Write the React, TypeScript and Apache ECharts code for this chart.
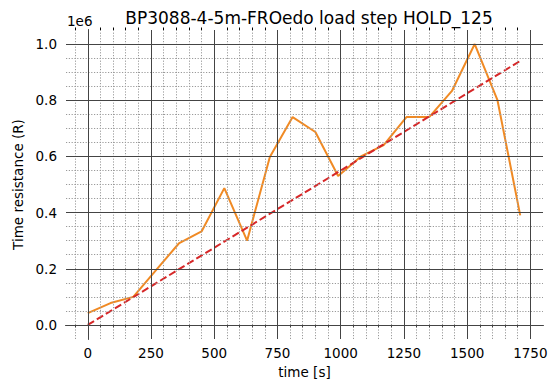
import React, { useEffect, useRef } from "react";
import * as echarts from "echarts";

const titleText = "BP3088-4-5m-FROedo load step HOLD_125";
const xName = "time [s]";
const yName = "Time resistance (R)";
const offsetText = "1e6";

const timeS = [0, 90, 180, 270, 360, 450, 540, 630, 720, 810, 900, 990, 1080, 1170, 1260, 1350, 1440, 1530, 1620, 1710];
const resistance = [42000, 78000, 100000, 195000, 290000, 333000, 487000, 300000, 598000, 740000, 687000, 530000, 600000, 640000, 740000, 740000, 833000, 1000000, 800000, 390000];
const trendTime = [0, 1710];
const trendValue = [0, 940000];

const xMajorTicks = [0, 250, 500, 750, 1000, 1250, 1500, 1750];
const xMinorTicks = [-50, 50, 100, 150, 200, 300, 350, 400, 450, 550, 600, 650, 700, 800, 850, 900, 950, 1050, 1100, 1150, 1200, 1300, 1350, 1400, 1450, 1550, 1600, 1650, 1700];
const yMajorTicks = [0, 200000, 400000, 600000, 800000, 1000000];
const yMinorTicks = [50000, 100000, 150000, 250000, 300000, 350000, 450000, 500000, 550000, 650000, 700000, 750000, 850000, 900000, 950000];

const X_MIN = -86;
const X_MAX = 1800;
const Y_MIN = -50000;
const Y_MAX = 1050000;

const FONT = "DejaVu Sans";
const LABEL_SIZE = 13.5;

export default function App() {
  const ref = useRef<HTMLDivElement>(null);
  useEffect(() => {
    if (!ref.current) return;
    const chart = echarts.init(ref.current, null, { renderer: "svg" });
    const gridPos = { left: 66, right: 12, top: 30, bottom: 46 };
    const tickStyle = { color: "#000", width: 1 };
    const baseX = {
      type: "value" as const,
      min: X_MIN,
      max: X_MAX,
      splitLine: { show: false },
      axisLine: { show: true, lineStyle: { color: "#000", width: 1 } },
    };
    const baseY = {
      type: "value" as const,
      min: Y_MIN,
      max: Y_MAX,
      splitLine: { show: false },
      axisLine: { show: true, lineStyle: { color: "#000", width: 1 } },
    };
    const option: any = {
      animation: false,
      backgroundColor: "#fff",
      title: {
        text: titleText,
        left: 304,
        textAlign: "center",
        top: 4,
        textStyle: { fontFamily: FONT, fontSize: 17, fontWeight: "normal", color: "#000" },
      },
      graphic: [
        {
          type: "text",
          left: 67,
          top: 14,
          style: { text: offsetText, font: `${LABEL_SIZE}px "${FONT}"`, fill: "#000" },
        },
      ],
      grid: [
        { ...gridPos },
        { ...gridPos },
      ],
      xAxis: [
        {
          ...baseX,
          gridIndex: 0,
          position: "bottom",
          name: xName,
          nameLocation: "middle",
          nameGap: 26,
          nameTextStyle: { fontFamily: FONT, fontSize: LABEL_SIZE, color: "#000" },
          axisTick: { show: true, length: 4, lineStyle: tickStyle, customValues: xMajorTicks },
          axisLabel: {
            show: true,
            margin: 7,
            customValues: xMajorTicks,
            fontFamily: FONT,
            fontSize: LABEL_SIZE,
            color: "#000",
            formatter: (v: number) => String(v),
          },
        },
        {
          ...baseX,
          gridIndex: 0,
          position: "top",
          axisTick: { show: true, length: 4, lineStyle: tickStyle, customValues: xMajorTicks },
          axisLabel: { show: false },
        },
        {
          ...baseX,
          gridIndex: 1,
          position: "bottom",
          axisLine: { show: false },
          axisTick: { show: true, length: 2.5, lineStyle: tickStyle, customValues: xMinorTicks },
          axisLabel: { show: false },
        },
        {
          ...baseX,
          gridIndex: 1,
          position: "top",
          axisLine: { show: false },
          axisTick: { show: true, length: 2.5, lineStyle: tickStyle, customValues: xMinorTicks },
          axisLabel: { show: false },
        },
      ],
      yAxis: [
        {
          ...baseY,
          gridIndex: 0,
          position: "left",
          name: yName,
          nameLocation: "middle",
          nameGap: 37,
          nameRotate: 90,
          nameTextStyle: { fontFamily: FONT, fontSize: LABEL_SIZE, color: "#000" },
          axisTick: { show: true, length: 4, lineStyle: tickStyle, customValues: yMajorTicks },
          axisLabel: {
            show: true,
            margin: 9,
            customValues: yMajorTicks,
            fontFamily: FONT,
            fontSize: LABEL_SIZE,
            color: "#000",
            formatter: (v: number) => (v / 1e6).toFixed(1),
          },
        },
        {
          ...baseY,
          gridIndex: 0,
          position: "right",
          axisTick: { show: true, length: 4, lineStyle: tickStyle, customValues: yMajorTicks },
          axisLabel: { show: false },
        },
        {
          ...baseY,
          gridIndex: 1,
          position: "left",
          show: false,
        },
      ],
      series: [
        {
          type: "line",
          name: "grid",
          xAxisIndex: 0,
          yAxisIndex: 0,
          data: [],
          z: 1,
          silent: true,
          markLine: {
            silent: true,
            symbol: "none",
            label: { show: false },
            animation: false,
            data: [
              ...xMinorTicks.map((v) => ({
                xAxis: v,
                lineStyle: { color: "#9a9a9a", width: 1, type: [1.2, 1.6] },
              })),
              ...yMinorTicks.map((v) => ({
                yAxis: v,
                lineStyle: { color: "#9a9a9a", width: 1, type: [1.2, 1.6] },
              })),
              ...xMajorTicks.map((v) => ({
                xAxis: v,
                lineStyle: { color: "#444", width: 1, type: "solid" },
              })),
              ...yMajorTicks.map((v) => ({
                yAxis: v,
                lineStyle: { color: "#444", width: 1, type: "solid" },
              })),
            ],
          },
        },
        {
          type: "line",
          name: "resistance",
          xAxisIndex: 0,
          yAxisIndex: 0,
          data: timeS.map((t, i) => [t, resistance[i]]),
          showSymbol: false,
          symbol: "none",
          z: 3,
          lineStyle: { color: "#f08a24", width: 2 },
        },
        {
          type: "line",
          name: "trend",
          xAxisIndex: 0,
          yAxisIndex: 0,
          data: trendTime.map((t, i) => [t, trendValue[i]]),
          showSymbol: false,
          symbol: "none",
          z: 4,
          lineStyle: { color: "#d62728", width: 2, type: [7.4, 3.2] },
        },
      ],
    };
    chart.setOption(option);
    return () => chart.dispose();
  }, []);
  return (
    <div
      ref={ref}
      style={{ position: "fixed", left: 0, top: 0, width: 555, height: 385, background: "#fff" }}
    />
  );
}
